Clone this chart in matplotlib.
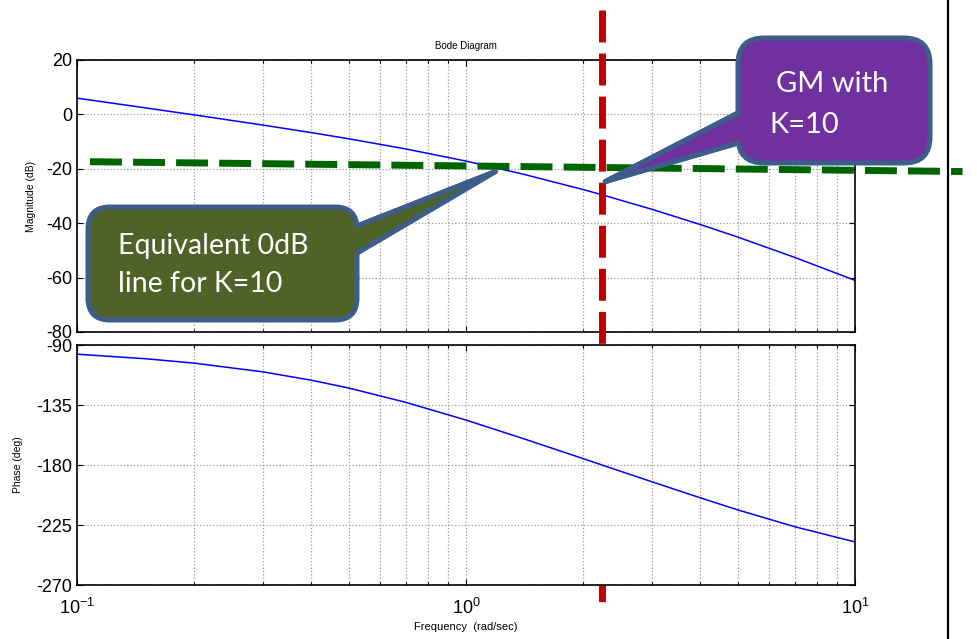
import matplotlib
matplotlib.use("Agg")
import matplotlib.pyplot as plt
from matplotlib.patches import FancyBboxPatch, Polygon
from matplotlib.ticker import LogLocator, NullFormatter, FixedLocator
import matplotlib.transforms as mtransforms

# values
freq = [0.1, 0.15, 0.2, 0.3, 0.4, 0.5, 0.7, 1.0, 1.4, 2.0, 2.236, 3.0, 4.0, 5.0, 7.0, 10.0]
mag_db = [5.98, 2.40, -0.18, -3.91, -6.69, -8.97, -12.70, -17.16, -21.94, -27.63,
          -29.54, -34.86, -40.47, -45.12, -52.58, -61.01]
phase_deg = [-96.9, -100.3, -103.6, -110.1, -116.4, -122.3, -133.0, -146.3, -160.1,
             -175.2, -180.0, -192.5, -204.6, -213.7, -226.3, -237.7]

mag_ticks = [20, 0, -20, -40, -60, -80]
phase_ticks = [-90, -135, -180, -225, -270]

phase_cross_freq = 2.236
equiv_freq = [0.108, 18.9]
equiv_db = [-17.4, -21.0]
green_tip = (1.19, -21.0)
purple_tip = (2.28, -24.7)

W, H = 978, 639
plt.rcParams["font.family"] = ["Liberation Sans", "DejaVu Sans"]
plt.rcParams["axes.unicode_minus"] = False
plt.rcParams["mathtext.default"] = "regular"

fig = plt.figure(figsize=(W / 100, H / 100), dpi=100)


def px_axes(x0, y0, x1, y1):
    return fig.add_axes([x0 / W, 1 - y1 / H, (x1 - x0) / W, (y1 - y0) / H])


ax_mag = px_axes(77, 60, 855, 332)
ax_ph = px_axes(77, 345, 855, 585)

for ax in (ax_mag, ax_ph):
    ax.set_xscale("log")
    ax.set_xlim(0.1, 10)
    ax.xaxis.set_major_locator(LogLocator(base=10, numticks=5))
    ax.xaxis.set_minor_locator(LogLocator(base=10, subs=range(2, 10), numticks=20))
    ax.xaxis.set_minor_formatter(NullFormatter())
    ax.grid(True, which="both", axis="x", color="#999999", linestyle=":", linewidth=0.9)
    ax.grid(True, which="major", axis="y", color="#999999", linestyle=":", linewidth=0.9)
    ax.tick_params(which="both", direction="in", top=True, right=True, labelsize=13,
                   width=0.8, color="black")
    ax.tick_params(which="major", length=4)
    ax.tick_params(which="minor", length=2.5)
    ax.tick_params(axis="x", pad=9)
    for s in ax.spines.values():
        s.set_linewidth(1.2)

ax_mag.plot(freq, mag_db, color="#0000FF", linewidth=1.1)
ax_mag.set_ylim(-80, 20)
ax_mag.yaxis.set_major_locator(FixedLocator(mag_ticks))
ax_mag.tick_params(labelbottom=False)
ax_mag.set_ylabel("Magnitude (dB)", fontsize=7.5)
ax_mag.yaxis.set_label_coords(-0.053, 0.5)
ax_mag.set_title("Bode Diagram", fontsize=7, pad=8)

ax_ph.plot(freq, phase_deg, color="#0000FF", linewidth=1.1)
ax_ph.set_ylim(-270, -90)
ax_ph.yaxis.set_major_locator(FixedLocator(phase_ticks))
ax_ph.set_ylabel("Phase (deg)", fontsize=7.5)
ax_ph.yaxis.set_label_coords(-0.069, 0.5)
ax_ph.set_xlabel("Frequency  (rad/sec)", fontsize=8, labelpad=3)

# overlay in pixel units for the slide annotations
ov = fig.add_axes([0, 0, 1, 1], facecolor="none")
ov.set_xlim(0, W)
ov.set_ylim(H, 0)
ov.axis("off")

# black border line of the slide
ov.plot([948, 948], [0, H], color="black", linewidth=1.6, zorder=1)

# red dashed line at the phase crossover
red_tr = mtransforms.blended_transform_factory(ax_mag.transData, fig.transFigure)
red, = ax_mag.plot([phase_cross_freq, phase_cross_freq], [1 - 10 / H, 1 - 610 / H],
                   transform=red_tr, color="#C00000", linewidth=5.0, clip_on=False,
                   solid_capstyle="butt", zorder=6)
red.set_dashes([4.6, 1.6])
red.set_dash_capstyle("butt")


def to_px(ax, pt):
    xy = ax.transData.transform(pt)
    return tuple(ov.transData.inverted().transform(xy))


def push_in(base, tip, dx):
    # move the base point further away from the tip, along the tail edge
    t = dx / abs(base[0] - tip[0])
    return (base[0] + (base[0] - tip[0]) * t, base[1] + (base[1] - tip[1]) * t)


def callout(box, base, tip, face, edge="#3D5D8A"):
    x0, y0, x1, y1, r = box
    tail = [base[0], tip, base[1]]
    ov.add_patch(Polygon(tail, closed=True, facecolor=face, edgecolor=edge,
                         linewidth=3.6, joinstyle="miter", zorder=7))
    ov.add_patch(FancyBboxPatch((x0, y0), x1 - x0, y1 - y0,
                                boxstyle="round,pad=0,rounding_size=%d" % r,
                                facecolor=face, edgecolor=edge, linewidth=3.6, zorder=8))
    # cover the box border where the tail joins it
    inner = [push_in(base[0], tip, 12), tip, push_in(base[1], tip, 12)]
    ov.add_patch(Polygon(inner, closed=True, facecolor=face, edgecolor="none", zorder=9))
    # redraw the tail sides so the outline stays continuous
    for b in base:
        ov.plot([b[0], tip[0]], [b[1], tip[1]], color=edge, linewidth=3.6,
                solid_capstyle="round", zorder=9.5)


g_tip = to_px(ax_mag, green_tip)
callout((88, 207, 357, 320, 22), [(357, 226), (357, 253)], g_tip, "#4F6228")
ov.text(118, 246, "Equivalent 0dB", color="white", fontsize=20.5, family=["Lato", "DejaVu Sans"],
        va="center", ha="left", zorder=10)
ov.text(118, 284, "line for K=10", color="white", fontsize=20.5, family=["Lato", "DejaVu Sans"],
        va="center", ha="left", zorder=10)

p_tip = to_px(ax_mag, purple_tip)
callout((738, 38, 930, 163, 26), [(738, 113), (738, 143)], p_tip, "#7030A0")
ov.text(832, 84, "GM with", color="white", fontsize=21, family=["Lato", "DejaVu Sans"],
        va="center", ha="center", zorder=10)
ov.text(769, 125, "K=10", color="white", fontsize=21, family=["Lato", "DejaVu Sans"],
        va="center", ha="left", zorder=10)

# green dashed equivalent 0 dB line
green, = ax_mag.plot(equiv_freq, equiv_db, color="#006400", linewidth=5.0,
                     clip_on=False, zorder=11)
green.set_dashes([4.6, 1.6])
green.set_dash_capstyle("butt")

fig.savefig("out.png", dpi=100)
